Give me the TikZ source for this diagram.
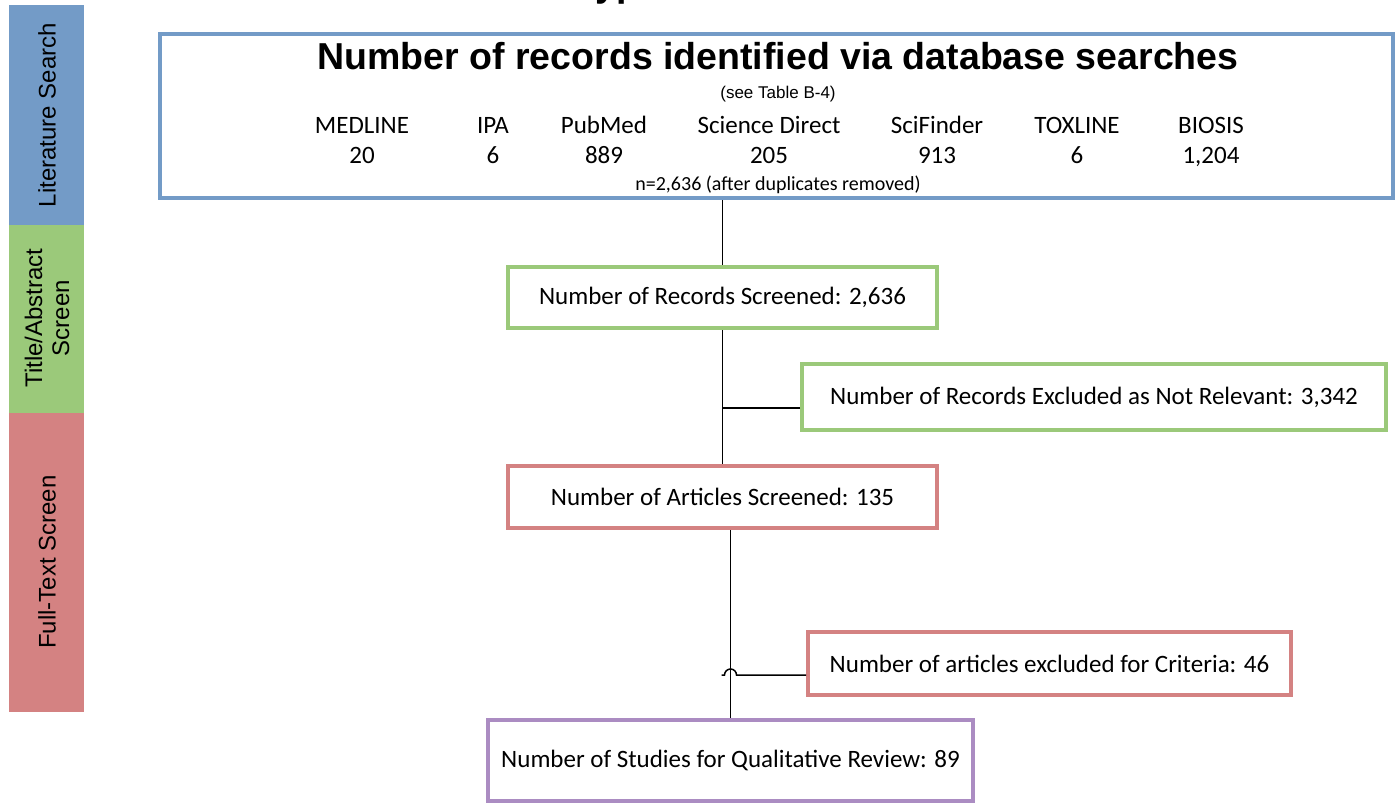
\documentclass[tikz,border=0pt]{standalone}
\usepackage{fontspec}
\setmainfont{Carlito}
\newfontfamily\arialfont{Liberation Sans}

\definecolor{searchblue}{RGB}{115,155,199}
\definecolor{screengreen}{RGB}{155,201,122}
\definecolor{fullred}{RGB}{212,130,130}
\definecolor{reviewpurple}{RGB}{171,140,194}

\begin{document}
\begin{tikzpicture}[x=1pt, y=-1pt]
    \tikzset{
        stagebox/.style={draw=#1, line width=4pt, fill=white, inner sep=0pt}, %% flow boxes
        bodytext/.style={font=\fontsize{25}{30}\selectfont},
        conn/.style={line width=1.5pt},
        bandlabel/.style={rotate=90, align=center, font=\arialfont\fontsize{24}{27}\selectfont}
    }
    \useasboundingbox (0,0) rectangle (1400,806);

    % stage bands on the left
    \fill[searchblue]  (9,5)   rectangle (84,225);
    \fill[screengreen] (9,225) rectangle (84,413);
    \fill[fullred]     (9,413) rectangle (84,712);
    \node[bandlabel] (lbsearch) at (47,115) {Literature Search};
    \node[bandlabel] (lbscreen) at (47,318) {Title/Abstract\\Screen};
    \node[bandlabel] (lbfull)   at (47,562) {Full-Text Screen};

    % cut title at the top edge
    \node[anchor=base west, inner sep=0pt, font=\arialfont\bfseries\fontsize{37.5}{40}\selectfont] (cuttitle) at (575,-4) {Types};

    % database searches
    \node[stagebox=searchblue, minimum width=1233pt, minimum height=164pt] (srch) at (776.5,116) {};
    \node[font=\arialfont\bfseries\fontsize{37.5}{40}\selectfont] (srchtitle) at (778,56) {Number of records identified via database searches};
    \node[font=\arialfont\fontsize{17}{20}\selectfont] (srchsee) at (778,94) {(see Table B-4)};
    \foreach \x/\name/\num [count=\i] in {362/MEDLINE/20, 493/IPA/6, 604/PubMed/889, 769/Science Direct/205,
            937/SciFinder/913, 1077/TOXLINE/6, 1211/BIOSIS/{1,204}} {
        \node[bodytext, anchor=base] (db\i) at (\x,133) {\name};
        \node[bodytext, anchor=base] (num\i) at (\x,163) {\num};
    }
    \node[font=\fontsize{20}{24}\selectfont] (srchn) at (778,185) {n=2,636 (after duplicates removed)};

    % screening boxes
    \node[stagebox=screengreen, minimum width=429pt, minimum height=61pt, bodytext] (scrn) at (722.5,297.5) {Number of Records Screened: 2,636};
    \node[stagebox=screengreen, minimum width=584pt, minimum height=66pt, bodytext] (excl) at (1094,397) {Number of Records Excluded as Not Relevant: 3,342};
    \node[stagebox=fullred, minimum width=429pt, minimum height=62pt, bodytext] (full) at (722.5,497) {Number of Articles Screened: 135};
    \node[stagebox=fullred, minimum width=483pt, minimum height=63pt, bodytext] (crit) at (1049.5,663.5) {Number of articles excluded for Criteria: 46};
    \node[stagebox=reviewpurple, minimum width=485pt, minimum height=81pt, bodytext] (rev) at (730.5,760.5) {Number of Studies for Qualitative Review: 89};

    % connectors
    \draw[conn] (srch.south -| scrn.north) -- (scrn.north);
    \draw[conn] (scrn.south) -- (full.north);
    \draw[conn] ([yshift=-11pt]excl.west) -- ([yshift=-11pt]excl.west -| scrn.south);
    \draw[conn] (rev.north) -- (rev.north |- full.south);
    \coordinate (hop) at ([yshift=-11.5pt]crit.west -| rev.north);
    \draw[conn] ([yshift=-11.5pt]crit.west) -- ([xshift=6pt]hop) arc[start angle=0, end angle=180, radius=6pt] -- ([xshift=-9pt]hop);
\end{tikzpicture}
\end{document}
